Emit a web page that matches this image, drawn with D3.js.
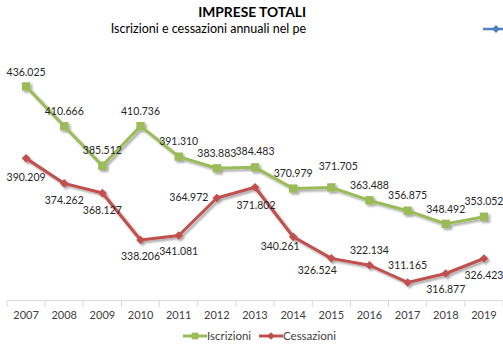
<!DOCTYPE html>
<html><head><meta charset="utf-8">
<script src="https://cdn.jsdelivr.net/npm/d3@7"></script>
<style>
html,body{margin:0;padding:0;background:#fff;}
svg{display:block;font-family:Lato,"Open Sans",sans-serif;}
</style></head>
<body><svg id="c" width="503" height="345"></svg>
<script>
const years = ["2007","2008","2009","2010","2011","2012","2013","2014","2015","2016","2017","2018","2019"];
const iscrizioni = [436.025,410.666,385.512,410.736,391.310,383.883,384.483,370.979,371.705,363.488,356.875,348.492,353.052];
const cessazioni = [390.209,374.262,368.127,338.206,341.081,364.972,371.802,340.261,326.524,322.134,311.165,316.877,326.423];
const seriesNames = ["Iscrizioni","Cessazioni"];
// label offsets (dx, dy) relative to point
const iscrOff = [[0,-14],[0,-15],[0,-15],[0,-15],[0,-15],[0,-15],[0,-16],[0,-15],[7,-21],[0,-15],[0,-15],[0,-15],[0,-15]];
const cessOff = [[0,19],[0,17],[0,17],[0,16],[0,16],[-28,-1],[1,18],[-13,10],[-14,12],[0,-15],[0,-17],[0,16],[0,17]];

const fmt = v => v.toFixed(3);
const svg = d3.select("#c");
const x = d3.scaleBand().domain(years).range([7,503]);
const y = d3.scaleLinear().domain([300,450]).range([300,64.5]);
const cx = d => x(d) + x.bandwidth()/2;

// titles
svg.append("text").attr("x",306).attr("y",17).attr("text-anchor","end")
  .attr("font-size",13.8).attr("font-weight",700).attr("fill","#000").text("IMPRESE TOTALI");
svg.append("text").attr("x",306).attr("y",33).attr("text-anchor","end")
  .attr("font-size",12.5).attr("fill","#000").text("Iscrizioni e cessazioni annuali nel pe");
// stray legend marker top-right
svg.append("line").attr("x1",483).attr("x2",503).attr("y1",29).attr("y2",29).attr("stroke","#4F81BD").attr("stroke-width",2.5);
svg.append("path").attr("d",d3.symbol(d3.symbolDiamond2,40)()).attr("transform","translate(496,29)").attr("fill","#4F81BD");

// axis
const ax = svg.append("g").attr("transform","translate(0,300)")
  .call(d3.axisBottom(x).tickSize(0).tickPadding(11));
ax.select(".domain").attr("stroke","#d9d9d9").attr("stroke-width",1);
ax.selectAll("text").attr("font-size",11).attr("fill","#404040").attr("font-family","Lato,sans-serif");
const edges = years.map(d=>x(d)).concat([x.range()[1]]);
svg.append("g").selectAll("line").data(edges).join("line")
  .attr("x1",d=>d).attr("x2",d=>d).attr("y1",300).attr("y2",307).attr("stroke","#d9d9d9");

const defs = svg.append("defs");
const f = defs.append("filter").attr("id","sh").attr("x","-20%").attr("y","-20%").attr("width","140%").attr("height","140%");
f.append("feGaussianBlur").attr("in","SourceAlpha").attr("stdDeviation",1.2);
f.append("feOffset").attr("dx",1.5).attr("dy",1.5).attr("result","b");
f.append("feComponentTransfer").append("feFuncA").attr("type","linear").attr("slope",0.35);
const m = f.append("feMerge"); m.append("feMergeNode"); m.append("feMergeNode").attr("in","SourceGraphic");

const line = d3.line().x((d,i)=>cx(years[i])).y(d=>y(d));
function drawSeries(vals, color, sym, size, offs){
  const g = svg.append("g").attr("filter","url(#sh)");
  g.append("path").datum(vals).attr("d",line).attr("fill","none").attr("stroke",color).attr("stroke-width",3).attr("stroke-linejoin","round");
  g.selectAll("path.m").data(vals).join("path").attr("class","m")
    .attr("d",d3.symbol(sym,size)()).attr("transform",(d,i)=>`translate(${cx(years[i])},${y(d)})`).attr("fill",color);
  svg.append("g").selectAll("text").data(vals).join("text")
    .attr("x",(d,i)=>cx(years[i])+offs[i][0]).attr("y",(d,i)=>y(d)+offs[i][1]).attr("dy","0.35em")
    .attr("text-anchor","middle").attr("font-size",10.5).attr("fill","#262626").text(fmt);
}
drawSeries(iscrizioni,"#9BBB59",d3.symbolSquare,70,iscrOff);
drawSeries(cessazioni,"#C0504D",d3.symbolDiamond2,48,cessOff);

// legend
const leg = [{n:seriesNames[0],c:"#9BBB59",s:d3.symbolSquare,sz:45,x:183},{n:seriesNames[1],c:"#C0504D",s:d3.symbolDiamond2,sz:35,x:259}];
leg.forEach(l=>{
  svg.append("line").attr("x1",l.x).attr("x2",l.x+24).attr("y1",336).attr("y2",336).attr("stroke",l.c).attr("stroke-width",3);
  svg.append("path").attr("d",d3.symbol(l.s,l.sz)()).attr("transform",`translate(${l.x+12},336)`).attr("fill",l.c);
  svg.append("text").attr("x",l.x+24).attr("y",336).attr("dy","0.35em").attr("font-size",11.5).attr("fill","#404040").text(l.n);
});
</script></body></html>
